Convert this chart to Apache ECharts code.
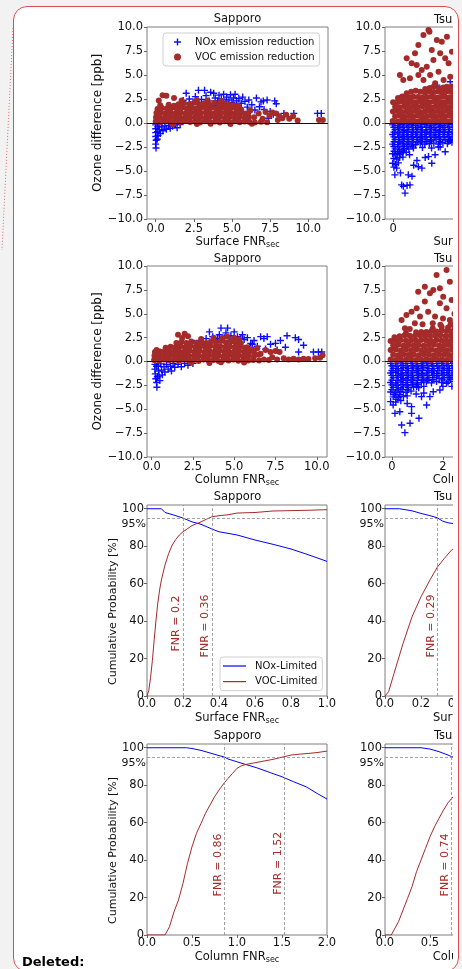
<!DOCTYPE html>
<html>
<head>
<meta charset="utf-8">
<script src="https://cdn.jsdelivr.net/npm/echarts@6/dist/echarts.min.js"></script>
<style>
  html, body { margin: 0; padding: 0; background: #f2f2f2; }
  body { width: 462px; height: 969px; position: relative; overflow: hidden; }
  .frame { position: absolute; left: 13px; top: 6px; width: 444px; height: 964px;
           border: 1px solid #de4b50; border-radius: 14px; background: #fff; }
  .note { position: absolute; left: 22px; top: 954px; font: bold 13px 'DejaVu Sans'; color: #000; }
  #clip { position: absolute; left: 0; top: 0; width: 453px; height: 969px; overflow: hidden; }
  #chart { position: absolute; left: 0; top: 0; width: 600px; height: 969px; }
</style>
</head>
<body>
<div class="frame"></div>
<div id="clip"><div id="chart"></div></div>
<div class="note">Deleted:</div>
<script>
// scatter values: [FNR, ozone difference ppb]
const sapSurfNOx = [[0.0,-0.2],[0.0,-0.6],[0.0,-1.0],[0.0,-1.4],[0.03,-1.8],[0.0,-2.2],[0.02,-2.6],[0.12,-0.4],[0.12,-0.9],[0.15,-1.3],[0.1,-1.7],[0.22,-0.2],[0.25,-0.7],[0.3,-1.1],[0.4,-0.4],[0.48,-0.8],[0.6,-0.3],[0.7,-0.65],[0.85,-0.25],[0.95,-0.55],[1.1,-0.35],[1.25,-0.2],[1.4,-0.5],[1.6,-0.15],
  [1.3,1.7],[1.6,2.05],[1.8,2.35],[2.0,3.1],[2.2,2.5],[2.45,2.2],[2.6,2.75],[2.8,3.4],[3.0,2.45],[3.2,3.4],[3.3,2.85],[3.5,2.3],[3.6,3.2],[3.8,3.1],[3.9,2.6],[4.05,2.3],[4.15,2.9],[4.3,2.5],[4.45,3.0],[4.55,2.2],[4.65,2.7],[4.8,2.4],[4.9,2.95],[5.0,2.15],[5.1,2.6],[5.2,3.0],[5.3,2.3],[5.45,2.55],[5.6,2.05],[5.7,2.7],[5.85,2.25],[6.0,1.65],[6.1,2.4],[6.3,1.9],[6.5,1.35],[6.6,2.6],[6.8,1.7],[6.9,2.2],[7.05,2.3],[7.1,1.4],[7.3,2.4],[7.4,0.5],[7.5,1.2],[7.7,0.9],[7.8,2.3],[7.9,2.0],[8.4,1.0],[9.05,1.0],[10.6,1.0],[10.85,1.0],
  [3.9,1.8],[4.4,1.9],[4.7,1.75],[5.05,1.85],[5.4,1.75]];
const sapSurfVOC = [[0.0,0.15],[0.3,0.1],[0.62,0.2],[0.95,0.12],[1.28,0.18],[1.6,0.08],[1.93,0.2],[2.25,0.1],[2.58,0.15],[2.9,0.05],[3.22,0.2],[3.55,0.1],[3.88,0.16],[4.2,0.06],[4.52,0.18],[4.85,0.1],[5.18,0.2],[5.5,0.08],[5.82,0.15],[6.15,0.1],[6.5,0.05],[6.9,0.12],[7.3,0.08],
  [1.1,-0.12],[2.7,-0.1],[3.6,-0.08],[4.9,-0.1],[6.3,-0.08],
  [0.02,0.6],[0.32,0.55],[0.65,0.65],[0.97,0.58],[1.3,0.66],[1.62,0.55],[1.95,0.62],[2.27,0.57],[2.6,0.66],[2.92,0.6],[3.25,0.55],[3.57,0.65],[3.9,0.58],[4.22,0.63],[4.55,0.55],[4.87,0.66],[5.2,0.57],[5.52,0.62],[5.85,0.55],[6.1,0.6],
  [0.17,0.38],[0.8,0.4],[1.45,0.36],[2.1,0.42],[2.75,0.38],[3.4,0.4],[4.05,0.36],[4.7,0.42],[5.35,0.38],[6.0,0.35],
  [0.05,1.05],[0.35,1.1],[0.67,1.0],[1.0,1.08],[1.32,1.02],[1.65,1.1],[1.97,1.0],[2.3,1.07],[2.62,1.12],[2.95,1.03],[3.27,1.1],[3.6,1.0],[3.92,1.08],[4.25,1.02],[4.57,1.1],[4.9,1.04],[5.22,1.0],[5.55,1.06],[5.85,0.98],
  [0.2,0.82],[0.85,0.85],[1.5,0.8],[2.15,0.86],[2.8,0.82],[3.45,0.85],[4.1,0.8],[4.75,0.86],[5.4,0.82],
  [0.12,1.45],[0.4,1.55],[0.72,1.5],[1.05,1.58],[1.37,1.5],[1.7,1.6],[2.02,1.52],[2.35,1.6],[2.67,1.5],[3.0,1.62],[3.32,1.55],[3.65,1.6],[3.97,1.5],[4.3,1.57],[4.62,1.5],[4.95,1.55],[5.27,1.45],[5.6,1.4],
  [0.25,1.28],[0.9,1.3],[1.55,1.26],[2.2,1.32],[2.85,1.28],[3.5,1.3],[4.15,1.26],[4.8,1.32],[5.45,1.25],
  [0.3,1.85],[0.85,1.9],[1.2,1.8],[1.5,1.95],[1.85,2.05],[2.2,1.95],[2.55,2.1],[2.85,1.95],[3.2,2.05],[3.5,1.95],[3.85,2.1],[4.15,1.95],[4.5,2.0],[4.8,1.9],[5.1,1.85],[5.4,1.8],
  [0.45,2.9],[0.7,2.85],[1.2,2.6],[0.2,2.35],[1.7,2.35],[2.7,2.4],[3.4,2.35],[4.3,2.3],
  [6.05,1.0],[6.2,1.3],[6.45,0.6],[6.75,1.0],[7.0,0.45],[7.2,1.15],[7.45,0.75],[7.65,1.1],[7.9,1.0],[8.0,0.3],[8.1,0.7],[8.3,0.5],[8.55,0.85],[8.75,0.45],[9.0,0.7],[9.3,0.25],[10.7,0.3],[10.95,0.3]];

const tsuSurfNOx = [[-0.05,-0.2],[0.55,-0.25],[1.1,-0.15],[1.65,-0.22],[2.2,-0.18],[2.75,-0.25],[3.3,-0.2],[3.85,-0.15],[4.4,-0.24],[4.95,-0.2],[5.5,-0.18],[6.05,-0.25],[6.6,-0.2],[7.15,-0.15],[7.7,-0.2],
  [0.1,-0.45],[0.68,-0.48],[1.24,-0.42],[1.8,-0.46],[2.35,-0.44],[2.9,-0.48],[3.45,-0.42],[4.0,-0.46],[4.55,-0.45],[5.1,-0.48],[5.65,-0.42],[6.2,-0.46],[6.75,-0.44],[7.3,-0.47],
  [0.25,-0.7],[0.82,-0.65],[1.37,-0.75],[1.92,-0.68],[2.47,-0.72],[3.02,-0.66],[3.57,-0.74],[4.12,-0.7],[4.67,-0.65],[5.22,-0.75],[5.77,-0.68],[6.32,-0.72],[6.87,-0.66],[7.42,-0.72],
  [0.12,-0.95],[0.7,-0.98],[1.25,-0.92],[1.8,-0.96],[2.35,-0.94],[2.9,-0.98],[3.45,-0.92],[4.0,-0.96],[4.55,-0.95],[5.1,-0.98],[5.65,-0.92],[6.2,-0.96],[6.75,-0.94],[7.3,-0.97],
  [-0.05,-1.2],[0.55,-1.15],[1.1,-1.25],[1.65,-1.18],[2.2,-1.22],[2.75,-1.16],[3.3,-1.24],[3.85,-1.2],[4.4,-1.15],[4.95,-1.25],[5.5,-1.2],[6.05,-1.18],[6.6,-1.22],[7.15,-1.16],[7.7,-1.2],
  [0.1,-1.45],[0.68,-1.48],[1.24,-1.42],[1.8,-1.46],[2.35,-1.44],[2.9,-1.48],[3.45,-1.42],[4.0,-1.46],[4.55,-1.45],[5.1,-1.48],[5.65,-1.42],[6.2,-1.46],[6.75,-1.44],[7.3,-1.47],
  [0.25,-1.7],[0.82,-1.75],[1.37,-1.66],[1.92,-1.72],[2.47,-1.68],[3.02,-1.74],[3.57,-1.66],[4.12,-1.72],[4.67,-1.75],[5.22,-1.68],[5.77,-1.7],[6.32,-1.74],[6.87,-1.68],[7.42,-1.7],
  [0.12,-1.95],[0.7,-1.98],[1.25,-1.92],[1.8,-1.96],[2.35,-1.94],[2.9,-1.98],[3.45,-1.92],[4.0,-1.96],[4.55,-1.9],[5.65,-1.92],[6.75,-1.9],
  [-0.05,-2.2],[0.55,-2.25],[1.1,-2.15],[1.65,-2.22],[2.2,-2.18],[2.75,-2.25],[3.3,-2.1],[3.85,-2.2],[4.4,-2.15],[4.95,-2.1],[5.5,-2.2],[6.05,-2.05],[6.6,-2.15],[7.15,-2.0],[7.7,-2.1],
  [0.1,-2.45],[0.68,-2.48],[1.24,-2.42],[1.8,-2.46],[2.35,-2.4],
  [0.25,-2.7],[0.82,-2.75],[1.37,-2.66],[1.92,-2.72],[2.47,-2.6],[3.57,-2.55],[4.67,-2.6],[5.5,-2.5],
  [0.12,-2.95],[0.7,-2.98],[1.25,-2.9],
  [-0.05,-3.2],[0.3,-3.3],[0.55,-3.15],[0.85,-3.25],[1.1,-3.1],[1.6,-3.05],
  [0.1,-3.7],[0.45,-3.75],[0.8,-3.6],[1.2,-3.55],[-0.05,-4.2],[0.3,-4.3],[0.65,-4.15],[0.1,-4.6],
  [0.22,-5.4],[0.43,-4.7],[0.9,-5.2],[1.04,-6.45],[1.45,-7.3],[1.25,-6.6],[1.85,-5.4],[2.05,-6.45],[2.3,-5.55],[1.7,-6.5],[3.07,-4.55],[3.5,-4.7],[2.9,-3.9],[2.5,-4.4],[3.9,-3.6],[4.3,-3.5],[4.7,-4.2],[5.1,-3.3],[5.72,-2.5],[6.33,-3.0],[6.94,-1.8],[2.0,-3.3],
  [5.31,3.95],[6.13,3.6],[6.94,4.3],[7.15,0.31]];
const tsuSurfVOC = [[-0.05,0.2],[0.55,0.15],[1.1,0.25],[1.65,0.18],[2.2,0.22],[2.75,0.15],[3.3,0.2],[3.85,0.25],[4.4,0.15],[4.95,0.2],[5.5,0.18],[6.05,0.24],[6.6,0.15],[7.15,0.2],[7.7,0.2],
  [0.25,0.7],[0.82,0.75],[1.37,0.65],[1.92,0.72],[2.47,0.68],[3.02,0.75],[3.57,0.66],[4.12,0.7],[4.67,0.74],[5.22,0.65],[5.77,0.72],[6.32,0.68],[6.87,0.75],[7.42,0.7],
  [-0.02,1.2],[0.55,1.25],[1.1,1.15],[1.65,1.22],[2.2,1.18],[2.75,1.25],[3.3,1.15],[3.85,1.2],[4.4,1.24],[4.95,1.16],[5.5,1.22],[6.05,1.18],[6.6,1.25],[7.15,1.15],[7.7,1.2],
  [0.25,1.7],[0.82,1.65],[1.37,1.75],[1.92,1.68],[2.47,1.72],[3.02,1.66],[3.57,1.74],[4.12,1.7],[4.67,1.65],[5.22,1.75],[5.77,1.68],[6.32,1.72],[6.87,1.66],[7.42,1.72],
  [0.0,2.15],[0.55,2.2],[1.1,2.25],[1.65,2.18],[2.2,2.22],[2.75,2.15],[3.3,2.24],[3.85,2.2],[4.4,2.16],[4.95,2.25],[5.5,2.2],[6.05,2.15],[6.6,2.22],[7.15,2.18],[7.7,2.2],
  [0.6,2.6],[1.1,2.75],[1.37,2.7],[1.92,2.68],[2.47,2.74],[3.02,2.7],[3.57,2.66],[4.12,2.72],[4.67,2.75],[5.22,2.66],[5.77,2.7],[6.32,2.74],[6.87,2.68],[7.42,2.72],
  [1.65,3.1],[2.2,3.25],[2.75,3.35],[3.3,3.25],[3.85,3.2],[4.4,3.3],[4.95,3.22],[5.5,3.28],[6.05,3.2],[6.6,3.3],[7.15,3.24],[7.7,3.2],
  [3.9,3.55],[4.45,3.65],[4.95,3.8],[5.6,3.6],[6.1,3.7],[6.65,3.5],[7.15,3.8],[7.6,3.65],
  [4.42,9.51],[3.69,9.17],[3.07,8.12],[2.66,7.26],[1.65,6.74],[2.26,6.22],[2.87,6.04],[3.48,5.52],[4.09,5.87],[4.7,7.6],[5.31,8.65],[5.92,8.47],[6.54,8.99],[5.72,7.26],[6.33,6.74],[4.9,6.56],[7.15,7.43],[6.74,6.22],[0.83,5.0],[1.24,4.48],[2.05,4.65],[3.07,5.0],[3.69,4.48],[4.5,5.0],[5.52,5.35],[6.13,4.48],[6.94,4.83],[5.11,4.13],[6.54,3.78],[4.3,9.7]];

const sapColNOx = [[0.2,-0.3],[0.2,-0.8],[0.22,-1.3],[0.25,-1.8],[0.3,-2.2],[0.32,-2.7],[0.4,-0.5],[0.42,-1.0],[0.45,-1.5],[0.5,-2.0],[0.55,-0.25],[0.6,-0.9],[0.65,-1.4],[0.75,-0.55],[0.8,-1.1],[0.9,-0.3],[1.0,-0.8],[1.15,-0.5],[1.3,-0.2],[1.4,-0.6],[1.6,-0.3],[1.8,-0.55],[2.0,-0.2],[2.2,-0.4],[2.5,-0.2],[1.2,-1.0],[0.3,-0.5],[0.35,-1.6],
  [2.6,1.9],[2.9,2.2],[3.1,1.8],[3.3,2.4],[3.5,3.1],[3.7,2.6],[3.9,2.2],[4.1,2.8],[4.2,3.5],[4.4,2.5],[4.5,3.0],[4.6,3.5],[4.8,2.7],[4.9,2.25],[5.0,3.1],[5.2,2.6],[5.3,2.0],[5.5,2.8],[5.6,2.3],[5.8,2.5],[6.0,1.9],[6.2,2.2],[6.4,1.6],[6.6,2.6],[6.8,2.4],[7.0,2.6],[7.2,1.8],[7.5,1.9],[7.8,2.2],[8.1,1.5],[8.2,2.7],[8.7,2.5],[8.9,2.3],[8.9,1.0],[9.2,1.7],[9.8,1.0],[10.1,1.0],[10.3,1.0],[6.9,1.3],[7.6,1.2],[3.6,2.0],[4.0,2.4],[4.7,2.1],[5.4,2.4],[6.1,1.8]];
const sapColVOC = [[0.15,0.15],[0.45,0.1],[0.75,0.2],[1.05,0.12],[1.35,0.18],[1.65,0.08],[1.95,0.2],[2.25,0.1],[2.55,0.15],[2.85,0.05],[3.15,0.2],[3.45,0.1],[3.75,0.16],[4.05,0.06],[4.35,0.18],[4.65,0.1],[4.95,0.2],[5.25,0.08],[5.55,0.15],[5.85,0.1],[6.15,0.15],[6.5,0.1],[6.8,0.2],[7.1,0.15],
  [2.4,-0.1],[3.5,-0.15],[4.2,-0.08],[5.6,-0.1],
  [0.17,0.6],[0.47,0.55],[0.77,0.65],[1.07,0.58],[1.37,0.66],[1.67,0.55],[1.97,0.62],[2.27,0.57],[2.57,0.66],[2.87,0.6],[3.17,0.55],[3.47,0.65],[3.77,0.58],[4.07,0.63],[4.37,0.55],[4.67,0.66],[4.97,0.57],[5.27,0.62],[5.57,0.55],[5.87,0.6],[6.2,0.55],[6.5,0.7],
  [0.3,0.38],[0.9,0.4],[1.5,0.36],[2.1,0.42],[2.7,0.38],[3.3,0.4],[3.9,0.36],[4.5,0.42],[5.1,0.38],[5.7,0.4],
  [0.2,1.0],[0.5,1.05],[0.8,1.1],[1.1,1.02],[1.4,1.1],[1.7,1.0],[2.0,1.07],[2.3,1.12],[2.6,1.03],[2.9,1.1],[3.2,1.0],[3.5,1.08],[3.8,1.02],[4.1,1.1],[4.4,1.04],[4.7,1.0],[5.0,1.06],[5.3,1.1],[5.6,1.0],[5.9,1.05],[6.2,0.95],
  [0.35,0.82],[0.95,0.85],[1.55,0.8],[2.15,0.86],[2.75,0.82],[3.35,0.85],[3.95,0.8],[4.55,0.86],[5.15,0.82],[5.75,0.8],
  [0.85,1.45],[1.15,1.55],[1.45,1.5],[1.75,1.58],[2.05,1.5],[2.35,1.6],[2.65,1.52],[2.95,1.6],[3.25,1.5],[3.55,1.62],[3.85,1.55],[4.15,1.6],[4.45,1.5],[4.75,1.57],[5.05,1.5],[5.35,1.55],[5.65,1.45],
  [0.3,1.2],[1.0,1.3],[1.6,1.28],[2.2,1.32],[2.8,1.28],[3.4,1.3],[4.0,1.26],[4.6,1.32],[5.2,1.28],[5.8,1.25],
  [1.5,1.95],[1.8,2.05],[2.1,1.95],[2.4,2.1],[2.7,1.95],[3.0,2.05],[3.3,1.95],[3.6,2.1],[3.9,2.0],[4.2,2.15],[4.5,2.0],[4.8,2.1],[5.1,1.95],[5.4,1.9],
  [1.6,2.8],[2.0,2.9],[2.2,2.65],[1.85,2.45],[3.0,2.35],[3.75,2.5],[4.3,2.45],[4.6,2.6],[5.0,2.5],[5.3,2.3],
  [5.8,1.5],[6.1,1.25],[6.4,1.4],[6.6,0.8],[6.9,1.2],[7.2,1.0],[7.5,1.1],[7.75,1.0],[7.3,0.45],[7.6,0.2],[8.0,0.35],[8.3,0.2],[8.6,0.3],[8.9,0.2],[9.2,0.3],[9.5,0.25],[9.9,0.35],[10.2,0.4],[10.35,0.65]];

const tsuColNOx = [[-0.05,-0.2],[0.15,-0.25],[0.35,-0.15],[0.55,-0.22],[0.75,-0.18],[0.95,-0.25],[1.15,-0.2],[1.35,-0.15],[1.55,-0.24],[1.75,-0.2],[1.95,-0.18],[2.15,-0.25],[2.35,-0.2],[2.55,-0.2],
  [0.0,-0.45],[0.2,-0.48],[0.4,-0.42],[0.6,-0.46],[0.8,-0.44],[1.0,-0.48],[1.2,-0.42],[1.4,-0.46],[1.6,-0.45],[1.8,-0.48],[2.0,-0.42],[2.2,-0.46],[2.4,-0.44],
  [0.05,-0.7],[0.25,-0.75],[0.45,-0.66],[0.65,-0.72],[0.85,-0.68],[1.05,-0.74],[1.25,-0.66],[1.45,-0.72],[1.65,-0.75],[1.85,-0.68],[2.05,-0.7],[2.25,-0.74],[2.45,-0.68],
  [0.0,-0.95],[0.2,-0.98],[0.4,-0.92],[0.6,-0.96],[0.8,-0.94],[1.0,-0.98],[1.2,-0.92],[1.4,-0.96],[1.6,-0.95],[1.8,-0.98],[2.0,-0.92],[2.2,-0.96],[2.4,-0.94],
  [-0.05,-1.2],[0.15,-1.15],[0.35,-1.25],[0.55,-1.18],[0.75,-1.22],[0.95,-1.16],[1.15,-1.24],[1.35,-1.2],[1.55,-1.15],[1.75,-1.25],[1.95,-1.2],[2.15,-1.18],[2.35,-1.22],[2.55,-1.2],
  [0.0,-1.45],[0.2,-1.48],[0.4,-1.42],[0.6,-1.46],[0.8,-1.44],[1.0,-1.48],[1.2,-1.42],[1.4,-1.46],[1.6,-1.45],[1.8,-1.48],[2.0,-1.42],[2.2,-1.46],[2.4,-1.44],
  [0.05,-1.7],[0.25,-1.65],[0.45,-1.75],[0.65,-1.68],[0.85,-1.72],[1.05,-1.66],[1.25,-1.74],[1.45,-1.7],[1.65,-1.66],[1.85,-1.75],[2.05,-1.7],[2.25,-1.68],[2.45,-1.74],
  [0.0,-1.95],[0.2,-1.98],[0.4,-1.92],[0.6,-1.96],[0.8,-1.94],[1.0,-1.98],[1.2,-1.92],[1.4,-1.96],[1.6,-1.9],[2.0,-1.92],[2.3,-1.9],
  [-0.05,-2.2],[0.15,-2.25],[0.35,-2.15],[0.55,-2.22],[0.75,-2.18],[0.95,-2.25],[1.15,-2.2],[1.35,-2.15],[1.55,-2.24],[1.75,-2.1],[1.95,-2.2],[2.2,-2.15],[2.45,-2.1],
  [0.0,-2.45],[0.2,-2.48],[0.4,-2.42],[0.6,-2.46],[0.8,-2.44],[1.0,-2.4],
  [0.05,-2.7],[0.25,-2.75],[0.45,-2.66],[0.65,-2.72],[0.85,-2.68],[1.05,-2.74],[1.25,-2.6],
  [0.0,-2.95],[0.2,-2.98],[0.4,-2.92],[0.6,-2.96],
  [-0.05,-3.2],[0.15,-3.25],[0.35,-3.15],[0.55,-3.22],[0.75,-3.1],
  [0.05,-3.7],[0.25,-3.75],[0.45,-3.66],[0.6,-3.6],[0.1,-3.45],[0.3,-3.48],[-0.05,-4.2],[0.15,-4.25],[0.35,-4.1],[0.05,-4.55],[0.2,-3.95],
  [0.12,-5.43],[0.31,-5.26],[0.77,-4.73],[0.77,-5.43],[0.38,-6.65],[0.71,-6.47],[0.51,-7.45],[1.06,-5.95],[1.16,-3.68],[1.36,-4.55],[1.49,-3.68],[1.62,-3.16],[1.88,-2.98],[2.14,-2.28],[0.97,-2.63],[0.6,-4.4],[0.95,-3.4],[1.25,-3.3],[2.0,-2.6],[2.35,-2.6],
  [2.3,0.2],[2.34,3.95]];
const tsuColVOC = [[-0.05,0.2],[0.15,0.15],[0.35,0.22],[0.55,0.18],[0.75,0.25],[0.95,0.15],[1.15,0.2],[1.35,0.24],[1.55,0.16],[1.75,0.2],[1.95,0.22],[2.15,0.15],[2.35,0.2],[2.55,0.2],
  [0.05,0.7],[0.25,0.66],[0.45,0.74],[0.65,0.68],[0.85,0.72],[1.05,0.66],[1.25,0.75],[1.45,0.7],[1.65,0.66],[1.85,0.74],[2.05,0.7],[2.25,0.68],[2.45,0.72],
  [-0.05,1.2],[0.15,1.25],[0.35,1.15],[0.55,1.22],[0.75,1.18],[0.95,1.25],[1.15,1.16],[1.35,1.2],[1.55,1.24],[1.75,1.15],[1.95,1.22],[2.15,1.18],[2.35,1.24],[2.55,1.2],
  [0.05,1.7],[0.25,1.75],[0.45,1.66],[0.65,1.72],[0.85,1.68],[1.05,1.74],[1.25,1.66],[1.45,1.72],[1.65,1.75],[1.85,1.68],[2.05,1.7],[2.25,1.74],[2.45,1.68],
  [-0.05,2.15],[0.15,2.2],[0.35,2.25],[0.55,2.18],[0.75,2.22],[0.95,2.16],[1.15,2.24],[1.35,2.2],[1.55,2.15],[1.75,2.25],[1.95,2.2],[2.15,2.18],[2.35,2.22],[2.55,2.2],
  [0.1,2.55],[0.3,2.65],[0.5,2.75],[0.7,2.7],[0.9,2.66],[1.1,2.74],[1.3,2.7],[1.5,2.66],[1.7,2.72],[1.9,2.75],[2.1,2.68],[2.3,2.7],[2.5,2.72],
  [0.55,2.95],[0.95,3.05],[1.15,3.1],[1.35,3.1],[1.55,3.2],[1.75,3.15],[1.95,3.25],[2.15,3.2],[2.35,3.15],[2.55,3.2],
  [1.6,3.45],[1.95,3.6],[2.2,3.55],[2.45,3.5],
  [0.38,4.35],[0.57,4.87],[0.77,5.2],[1.03,7.3],[1.29,7.84],[1.49,7.14],[1.62,7.49],[1.75,9.05],[1.88,7.66],[2.14,9.58],[2.27,8.36],[1.88,6.09],[2.01,6.79],[1.29,6.27],[0.97,5.57],[1.1,4.7],[1.42,5.22],[1.69,4.7],[2.14,5.57],[2.34,6.44],[0.51,3.47],[0.9,4.0],[2.27,4.35],[1.2,3.9],[1.6,4.0],[1.9,3.85],[2.3,3.9],[0.7,3.4],[2.45,5.0],[2.0,4.5]];

// cumulative probability curves: [FNR, %]
const sapSurfCdfNOx = [[0,100],[0.08,100],[0.1,98],[0.15,96.6],[0.2,95],[0.25,93],[0.3,91.7],[0.36,89.2],[0.4,87.7],[0.5,86],[0.6,83.3],[0.7,81],[0.8,78.5],[0.9,75.3],[1.0,71.9]];
const sapSurfCdfVOC = [[0,0],[0.01,3],[0.02,10],[0.03,19],[0.04,30],[0.05,40.6],[0.06,49.6],[0.07,56.6],[0.08,62],[0.1,70],[0.12,76],[0.14,80.6],[0.16,83.6],[0.18,86],[0.2,87.7],[0.25,91],[0.3,93],[0.33,94.4],[0.36,95.7],[0.4,96.3],[0.45,96.8],[0.5,97.7],[0.6,98],[0.7,98.8],[0.8,99],[0.9,99.2],[1.0,99.5]];
const tsuSurfCdfNOx = [[0,100],[0.08,100],[0.15,98.9],[0.2,97.5],[0.25,96.3],[0.29,95.2],[0.32,93.4],[0.35,92.5],[0.4,91.8],[0.5,90],[0.6,88],[0.8,84],[1.0,80]];
const tsuSurfCdfVOC = [[0,0],[0.02,2.3],[0.05,12],[0.1,28],[0.15,42.3],[0.2,53],[0.25,62],[0.29,68.7],[0.33,73.5],[0.37,78],[0.45,83],[0.6,89],[0.8,94],[1.0,96.5]];
const sapColCdfNOx = [[0,100],[0.44,100],[0.5,99.6],[0.6,98.6],[0.7,97.2],[0.8,95.8],[0.86,95],[0.9,94],[1.0,92.5],[1.1,91],[1.22,89.3],[1.37,86.7],[1.5,84.5],[1.63,81.8],[1.77,79.1],[1.89,75.6],[2.0,72.6]];
const sapColCdfVOC = [[0,0],[0.2,0],[0.25,4.4],[0.3,12.4],[0.35,18.7],[0.4,27.6],[0.45,38.3],[0.5,47.1],[0.55,54.3],[0.6,59.6],[0.65,65],[0.7,69.4],[0.75,73.8],[0.8,77.4],[0.86,81.3],[0.9,83.6],[0.95,86.3],[1.0,89],[1.05,90.4],[1.1,91.1],[1.2,92],[1.3,92.9],[1.4,93.8],[1.52,95.2],[1.6,96.1],[1.7,96.6],[1.8,97],[1.9,97.5],[2.0,98.2]];
const tsuColCdfNOx = [[0,100],[0.4,100],[0.5,99.3],[0.6,97.9],[0.7,96.1],[0.74,95.2],[0.8,94.5],[1.0,91.5],[1.5,84],[2.0,76]];
const tsuColCdfVOC = [[0,0],[0.07,0],[0.1,2.7],[0.15,7.1],[0.2,13.3],[0.25,19.5],[0.3,25.8],[0.35,33.8],[0.4,40],[0.45,46.3],[0.5,52.5],[0.55,57.8],[0.6,62.3],[0.65,66.7],[0.7,70.6],[0.74,72.9],[0.8,76],[1.0,85],[1.5,94],[2.0,97]];

// 95% thresholds
const sapSurfFnr = [0.2, 0.36];
const tsuSurfFnr = [0.29];
const sapColFnr = [0.86, 1.52];
const tsuColFnr = [0.74];

// tick values
const diffTicks = [-10, -7.5, -5, -2.5, 0, 2.5, 5, 7.5, 10];
const probTicks = [0, 20, 40, 60, 80, 100];
const sapFnrTicks = [0, 2.5, 5, 7.5, 10];
const tsuSurfTicks = [0, 10, 20];
const tsuColTicks = [0, 2, 4, 6];
const surfCdfTicks = [0, 0.2, 0.4, 0.6, 0.8, 1.0];
const colCdfTicks = [0, 0.5, 1.0, 1.5, 2.0];

// where the rotated "FNR = x" notes sit, [x, y] per threshold
const fnrNotePos = {
  sapSurf: [[0.161, 38.7], [0.322, 37.4]],
  tsuSurf: [[0.256, 37.4]],
  sapCol: [[0.792, 37.4], [1.459, 38.3]],
  tsuCol: [[0.667, 37.4]]
};

const FONT = 'DejaVu Sans';
const TXT = '#111';
const NOX = '#0000ff', VOC = '#a52a2a';
const PLUS = 'path://M4,0H6V4H10V6H6V10H4V6H0V4H4Z';

const gridBoxes = [
  [147, 27, 181, 192], [385, 27, 181, 192],
  [147, 266, 180, 191], [385, 266, 180, 191],
  [147, 505, 180, 191], [385, 505, 180, 191],
  [147, 744, 180, 191], [385, 744, 180, 191]
];
const grid = gridBoxes.map(b => ({
  left: b[0], top: b[1], width: b[2], height: b[3], outerBoundsMode: 'none', containLabel: false,
  show: true, borderColor: '#7f7f7f', borderWidth: 1, backgroundColor: 'transparent'
}));

const oneDec = v => (v < 0 ? '\u2212' : '') + Math.abs(v).toFixed(1);
const whole = v => String(Math.round(v));

function fnrName(kind) { return '{a|' + kind + ' FNR}{b|sec}'; }
const nameRich = {
  a: { fontSize: 11.5, fontFamily: FONT, color: TXT, lineHeight: 14 },
  b: { fontSize: 8, fontFamily: FONT, color: TXT, lineHeight: 6, verticalAlign: 'bottom' }
};

function xAx(gi, min, max, ticks, fmt, name, margin) {
  return {
    type: 'value', gridIndex: gi, min: min, max: max,
    name: name, nameLocation: 'middle', nameGap: 15,
    nameTextStyle: { fontFamily: FONT, fontSize: 11.5, color: TXT, rich: nameRich },
    axisLine: { show: false, onZero: false },
    axisTick: { show: true, length: 3, customValues: ticks, lineStyle: { color: '#666' } },
    axisLabel: { customValues: ticks, formatter: fmt, margin: margin, fontSize: 11.5, fontFamily: FONT, color: TXT },
    splitLine: { show: false }
  };
}
function yAx(gi, min, max, ticks, fmt, name, gap, shift, nameSize, margin) {
  return {
    type: 'value', gridIndex: gi, min: min, max: max,
    name: name, nameLocation: 'middle', nameGap: gap,
    nameTextStyle: { fontFamily: FONT, fontSize: nameSize, color: TXT, padding: [0, shift, 0, 0] },
    axisLine: { show: false, onZero: false },
    axisTick: { show: true, length: 3, customValues: ticks, lineStyle: { color: '#666' } },
    axisLabel: { customValues: ticks, formatter: fmt, margin: margin, fontSize: 11.5, fontFamily: FONT, color: TXT },
    splitLine: { show: false }
  };
}

const xAxis = [
  xAx(0, -0.57, 11.29, sapFnrTicks, oneDec, fnrName('Surface'), 4),
  xAx(1, -0.98, 21.0, tsuSurfTicks, whole, fnrName('Surface'), 4),
  xAx(2, -0.28, 10.62, sapFnrTicks, oneDec, fnrName('Column'), 4),
  xAx(3, -0.27, 6.78, tsuColTicks, whole, fnrName('Column'), 4),
  xAx(4, 0, 1, surfCdfTicks, oneDec, fnrName('Surface'), 2),
  xAx(5, 0, 1, surfCdfTicks, oneDec, fnrName('Surface'), 2),
  xAx(6, 0, 2, colCdfTicks, oneDec, fnrName('Column'), 2),
  xAx(7, 0, 2, colCdfTicks, oneDec, fnrName('Column'), 2)
];
const yAxis = [
  yAx(0, -10, 10, diffTicks, oneDec, 'Ozone difference [ppb]', 36, 0, 12, 4),
  yAx(1, -10, 10, diffTicks, oneDec, '', 36, 0, 12, 4),
  yAx(2, -10, 10, diffTicks, oneDec, 'Ozone difference [ppb]', 36, 0, 12, 4),
  yAx(3, -10, 10, diffTicks, oneDec, '', 36, 0, 12, 4),
  yAx(4, 0, 102, probTicks, whole, 'Cumulative Probability [%]', 28, 22, 11, 3),
  yAx(5, 0, 102, probTicks, whole, '', 28, 22, 11, 3),
  yAx(6, 0, 102, probTicks, whole, 'Cumulative Probability [%]', 28, 22, 11, 3),
  yAx(7, 0, 102, probTicks, whole, '', 28, 22, 11, 3)
];

const series = [];
function addScatter(gi, nox, voc) {
  series.push({
    type: 'scatter', name: 'NOx emission reduction', xAxisIndex: gi, yAxisIndex: gi,
    data: nox, symbol: PLUS, symbolSize: 7, itemStyle: { color: NOX, opacity: 0.95 }, z: 2
  });
  series.push({
    type: 'scatter', name: 'VOC emission reduction', xAxisIndex: gi, yAxisIndex: gi,
    data: voc, symbol: 'circle', symbolSize: 6, itemStyle: { color: VOC, opacity: 1 }, z: 3,
    markLine: {
      silent: true, symbol: 'none', label: { show: false },
      lineStyle: { color: '#111', width: 1.2, type: 'solid' },
      data: [{ yAxis: 0 }]
    }
  });
}
function addCdf(gi, nox, voc, fnr, notePos) {
  series.push({
    type: 'line', name: 'NOx-Limited', xAxisIndex: gi, yAxisIndex: gi, data: nox,
    symbol: 'none', lineStyle: { color: NOX, width: 1 }, itemStyle: { color: NOX }, z: 3
  });
  const lines = fnr.map(v => ({ xAxis: v }));
  lines.push({
    yAxis: 95,
    label: { show: true, position: 'start', formatter: '95%', distance: 1, offset: [0, 6],
             fontSize: 11, fontFamily: FONT, color: TXT }
  });
  series.push({
    type: 'line', name: 'VOC-Limited', xAxisIndex: gi, yAxisIndex: gi, data: voc,
    symbol: 'none', lineStyle: { color: VOC, width: 1 }, itemStyle: { color: VOC }, z: 3,
    markLine: {
      silent: true, symbol: 'none', label: { show: false },
      lineStyle: { color: '#8c8c8c', width: 0.8, type: [3, 2] },
      data: lines
    },
    markPoint: {
      silent: true, symbol: 'circle', symbolSize: 0,
      label: { show: true, rotate: 90, color: VOC, fontSize: 11, fontFamily: FONT, formatter: p => p.name },
      data: fnr.map((v, i) => ({ coord: notePos[i], name: 'FNR = ' + v }))
    }
  });
}

addScatter(0, sapSurfNOx, sapSurfVOC);
addScatter(1, tsuSurfNOx, tsuSurfVOC);
addScatter(2, sapColNOx, sapColVOC);
addScatter(3, tsuColNOx, tsuColVOC);
addCdf(4, sapSurfCdfNOx, sapSurfCdfVOC, sapSurfFnr, fnrNotePos.sapSurf);
addCdf(5, tsuSurfCdfNOx, tsuSurfCdfVOC, tsuSurfFnr, fnrNotePos.tsuSurf);
addCdf(6, sapColCdfNOx, sapColCdfVOC, sapColFnr, fnrNotePos.sapCol);
addCdf(7, tsuColCdfNOx, tsuColCdfVOC, tsuColFnr, fnrNotePos.tsuCol);

const titleStyle = { fontFamily: FONT, fontSize: 11.5, fontWeight: 'normal', color: TXT };
const title = [
  { text: 'Sapporo', left: 237.5, top: 13, textAlign: 'center', padding: 0, textStyle: titleStyle },
  { text: 'Sapporo', left: 237.5, top: 253, textAlign: 'center', padding: 0, textStyle: titleStyle },
  { text: 'Sapporo', left: 237.5, top: 491, textAlign: 'center', padding: 0, textStyle: titleStyle },
  { text: 'Sapporo', left: 237.5, top: 730, textAlign: 'center', padding: 0, textStyle: titleStyle },
  { text: 'Tsukuba', left: 434, top: 14, textAlign: 'left', padding: 0, textStyle: titleStyle },
  { text: 'Tsukuba', left: 434, top: 253, textAlign: 'left', padding: 0, textStyle: titleStyle },
  { text: 'Tsukuba', left: 434, top: 491, textAlign: 'left', padding: 0, textStyle: titleStyle },
  { text: 'Tsukuba', left: 434, top: 730, textAlign: 'left', padding: 0, textStyle: titleStyle }
];

const legendBox = {
  orient: 'vertical', selectedMode: false,
  backgroundColor: 'rgba(255,255,255,0.8)', borderColor: '#d0d0d0', borderWidth: 1, borderRadius: 3
};
const legend = [
  Object.assign({}, legendBox, {
    left: 163, top: 33, itemWidth: 7, itemHeight: 7, itemGap: 1, padding: [2, 5, 2, 11],
    textStyle: { fontSize: 10, fontFamily: FONT, color: TXT, lineHeight: 14, padding: [0, 0, 0, 9] },
    data: [{ name: 'NOx emission reduction', icon: PLUS }, { name: 'VOC emission reduction', icon: 'circle' }]
  }),
  Object.assign({}, legendBox, {
    left: 220, top: 657, itemWidth: 23, itemHeight: 1.2, itemGap: 1.6, padding: [2, 5, 2, 3],
    textStyle: { fontSize: 10, fontFamily: FONT, color: TXT, lineHeight: 14, padding: [0, 0, 0, 4] },
    data: [{ name: 'NOx-Limited', icon: 'rect' }, { name: 'VOC-Limited', icon: 'rect' }]
  })
];

const chart = echarts.init(document.getElementById('chart'));
chart.setOption({
  animation: false,
  textStyle: { fontFamily: FONT },
  title: title,
  legend: legend,
  grid: grid,
  xAxis: xAxis,
  yAxis: yAxis,
  series: series,
  graphic: [{
    type: 'line', silent: true,
    shape: { x1: 13, y1: 28, x2: 2, y2: 250 },
    style: { stroke: '#e06a6a', lineWidth: 1, lineDash: [1, 2] }
  }]
});
</script>
</body>
</html>
